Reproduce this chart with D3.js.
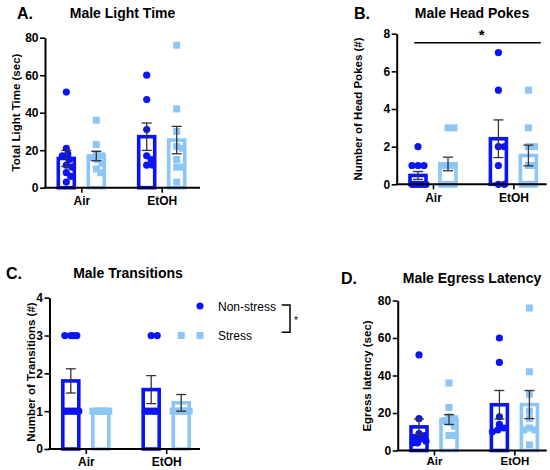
<!DOCTYPE html>
<html><head><meta charset="utf-8">
<script src="https://cdn.jsdelivr.net/npm/d3@7"></script>
<style>
html,body{margin:0;padding:0;background:#fff;}
svg{display:block;font-family:"Liberation Sans",Arial,Helvetica,sans-serif;}
</style></head>
<body>
<svg id="chart" width="550" height="470"></svg>
<script>
// ---------- DATA ----------
const categories = ["Air", "EtOH"];
const seriesNames = ["Non-stress", "Stress"];

// A. Male Light Time (sec)
const lightNonStress = [[51, 21, 18, 17, 15, 12, 11, 8, 6, 3], [60, 47, 31, 17, 15, 12, 12]];
const lightStress    = [[36, 23, 18, 17, 16, 15, 13, 10, 8], [76, 42, 30, 22, 21, 15, 11, 11, 3]];
const lightMean = [[15.6, 16.9], [27.2, 25.4]];
const lightSEM  = [[4.3, 2.5], [7.3, 7.3]];
const lightTicks = [0, 20, 40, 60, 80];

// B. Male Head Pokes (#)
const pokesNonStress = [[2, 1, 1, 1, 0, 0, 0, 0, 0, 0], [7, 5, 2, 2, 1, 0, 0]];
const pokesStress    = [[3, 3, 1, 1, 1, 1, 0, 0, 0], [5, 3, 2, 2, 1, 1, 0, 0, 0]];
const pokesMean = [[0.47, 1.08], [2.42, 1.53]];
const pokesSEM  = [[0.21, 0.36], [1.0, 0.55]];
const pokesTicks = [0, 2, 4, 6, 8];

// C. Male Transitions (#)
const transNonStress = [[3, 3, 3, 3, 1, 1, 1, 1, 1, 1], [3, 3, 1, 1, 1, 1, 1]];
const transStress    = [[1, 1, 1, 1, 1, 1, 1, 1, 1], [3, 1, 1, 1, 1, 1, 1, 1, 1]];
const transMean = [[1.8, 1.0], [1.57, 1.22]];
const transSEM  = [[0.32, 0], [0.37, 0.22]];
const transTicks = [0, 1, 2, 3, 4];

// D. Male Egress Latency (sec)
const egressNonStress = [[51, 17, 9, 8, 7, 6, 5, 4, 4], [60, 47, 18, 14, 12, 11, 10]];
const egressStress    = [[36, 23, 18, 17, 16, 15, 13, 8, 8], [76, 42, 30, 21, 17, 12, 11, 11, 3]];
const egressMean = [[12.6, 16.5], [24.4, 24.5]];
const egressSEM  = [[4.2, 2.6], [7.6, 7.5]];
const egressTicks = [0, 20, 40, 60, 80];

// ---------- STYLE / LAYOUT ----------
const colors = {"Non-stress": "#0a14f5", "Stress": "#8cc6f6"};
const svg = d3.select("#chart");
const FONT = "'Liberation Sans',Arial,sans-serif";

const panels = [
  {letter: "A.", title: "Male Light Time", ylabel: "Total Light  Time (sec)",
   ns: lightNonStress, st: lightStress, mean: lightMean, sem: lightSEM, ticks: lightTicks,
   x0: 45, xEnd: 200, yBot: 187.7, yTop: 37.7, letterX: 17, titleX: 122.5, headY: 18, ylabX: 19.5, ylabY: 112.5,
   xPad: 4, xFont: 12},
  {letter: "B.", title: "Male Head Pokes", ylabel: "Number of Head Pokes (#)",
   ns: pokesNonStress, st: pokesStress, mean: pokesMean, sem: pokesSEM, ticks: pokesTicks,
   x0: 396.7, xEnd: 546.7, yBot: 184.3, yTop: 33.7, letterX: 354, titleX: 472, headY: 18, ylabX: 361.5, ylabY: 109,
   xPad: 4, xFont: 12},
  {letter: "C.", title: "Male Transitions", ylabel: "Number of Transitions (#)",
   ns: transNonStress, st: transStress, mean: transMean, sem: transSEM, ticks: transTicks,
   x0: 49.5, xEnd: 200, yBot: 449, yTop: 297.7, letterX: 6, titleX: 128, headY: 278, ylabX: 34.5, ylabY: 372,
   xPad: 3, xFont: 12},
  {letter: "D.", title: "Male Egress Latency", ylabel: "Egress latency (sec)",
   ns: egressNonStress, st: egressStress, mean: egressMean, sem: egressSEM, ticks: egressTicks,
   x0: 397.7, xEnd: 546.7, yBot: 450.5, yTop: 300.5, letterX: 341, titleX: 472, headY: 283, ylabX: 370.5, ylabY: 376,
   xPad: 1.5, xFont: 11.5}
];

function swarm(vals, y, r, maxOff) {
  const placed = [];
  const minD = r * 1.6;
  const sorted = vals.slice().sort((a, b) => b - a);
  const cands = [0];
  for (let o = 0.5; o <= maxOff; o += 0.5) { cands.push(o, -o); }
  sorted.forEach(v => {
    const py = y(v);
    let best = null, bestD = -1;
    for (const c of cands) {
      let md = Infinity;
      for (const p of placed) {
        const d = Math.hypot(p.dx - c, p.py - py);
        if (d < md) md = d;
      }
      if (md >= minD) { best = c; bestD = md; break; }
      if (md > bestD + 0.01) { bestD = md; best = c; }
    }
    placed.push({v, dx: best, py});
  });
  return placed;
}

function drawPanel(p) {
  const g = svg.append("g");
  const y = d3.scaleLinear().domain([0, p.ticks[p.ticks.length - 1]]).range([p.yBot, p.yTop]);
  const x = d3.scalePoint().domain(categories).range([p.x0 + 36.3, p.x0 + 116.7]);
  const sub = d3.scalePoint().domain(seriesNames).range([-15, 15]);

  const recs = [];
  categories.forEach((c, ci) => {
    seriesNames.forEach((s, si) => {
      recs.push({cat: c, ser: s, mean: p.mean[ci][si], sem: p.sem[ci][si],
                 pts: si === 0 ? p.ns[ci] : p.st[ci]});
    });
  });

  // bars
  g.selectAll("rect.bar").data(recs).enter().append("rect")
    .attr("class", "bar")
    .attr("x", d => x(d.cat) + sub(d.ser) - 8)
    .attr("width", 16)
    .attr("y", d => y(d.mean))
    .attr("height", d => y(0) - y(d.mean))
    .attr("fill", "none")
    .attr("stroke", d => colors[d.ser])
    .attr("stroke-width", 3.6);

  // points
  recs.forEach(d => {
    const cx = x(d.cat) + sub(d.ser);
    const pl = swarm(d.pts, y, 3.6, 8);
    if (d.ser === "Non-stress") {
      g.selectAll(null).data(pl).enter().append("circle")
        .attr("cx", q => cx + q.dx).attr("cy", q => q.py).attr("r", 3.6)
        .attr("fill", colors[d.ser]);
    } else {
      g.selectAll(null).data(pl).enter().append("rect")
        .attr("x", q => cx + q.dx - 3.5).attr("y", q => q.py - 3.5)
        .attr("width", 7).attr("height", 7)
        .attr("fill", colors[d.ser]);
    }
  });

  // error bars
  const eb = g.selectAll("g.eb").data(recs.filter(d => d.sem > 0)).enter().append("g")
    .attr("stroke", "#333").attr("stroke-width", 1.3);
  eb.append("line")
    .attr("x1", d => x(d.cat) + sub(d.ser)).attr("x2", d => x(d.cat) + sub(d.ser))
    .attr("y1", d => y(d.mean + d.sem)).attr("y2", d => y(d.mean - d.sem));
  eb.append("line")
    .attr("x1", d => x(d.cat) + sub(d.ser) - 5).attr("x2", d => x(d.cat) + sub(d.ser) + 5)
    .attr("y1", d => y(d.mean + d.sem)).attr("y2", d => y(d.mean + d.sem));
  eb.append("line")
    .attr("x1", d => x(d.cat) + sub(d.ser) - 5).attr("x2", d => x(d.cat) + sub(d.ser) + 5)
    .attr("y1", d => y(d.mean - d.sem)).attr("y2", d => y(d.mean - d.sem));

  // y axis
  const ya = g.append("g").attr("transform", `translate(${p.x0},0)`)
    .call(d3.axisLeft(y).tickValues(p.ticks).tickFormat(d3.format("d"))
      .tickSize(5).tickSizeOuter(0).tickPadding(1.5));
  ya.select(".domain").attr("stroke", "#000").attr("stroke-width", 2);
  ya.selectAll(".tick line").attr("stroke", "#000").attr("stroke-width", 1.6);
  ya.selectAll(".tick text").attr("fill", "#000").style("font-size", "12px").style("font-weight", "bold")
    .style("font-family", FONT);

  // x axis
  const xa = g.append("g").attr("transform", `translate(0,${p.yBot})`)
    .call(d3.axisBottom(x).tickSize(5).tickSizeOuter(0).tickPadding(p.xPad));
  xa.select(".domain").remove();
  xa.append("line").attr("x1", p.x0 - 1).attr("x2", p.xEnd).attr("y1", 0).attr("y2", 0)
    .attr("stroke", "#000").attr("stroke-width", 2);
  xa.selectAll(".tick line").attr("stroke", "#000").attr("stroke-width", 1.6);
  xa.selectAll(".tick text").attr("fill", "#000").style("font-size", p.xFont + "px").style("font-weight", "bold")
    .style("font-family", FONT);

  // y label
  g.append("text")
    .attr("transform", `translate(${p.ylabX},${p.ylabY}) rotate(-90)`)
    .attr("text-anchor", "middle")
    .style("font-size", "11.5px").style("font-weight", "bold")
    .text(p.ylabel);

  // letter & title
  g.append("text").attr("x", p.letterX).attr("y", p.headY + 1)
    .style("font-size", "16px").style("font-weight", "bold").text(p.letter);
  g.append("text").attr("x", p.titleX).attr("y", p.headY).attr("text-anchor", "middle")
    .style("font-size", "14px").style("font-weight", "bold").text(p.title);

  return {x, y};
}

const scalesByPanel = panels.map(drawPanel);

// significance bar on panel B
const sigB = svg.append("g");
sigB.append("line").attr("x1", 414.3).attr("x2", 540.7).attr("y1", 42.7).attr("y2", 42.7)
  .attr("stroke", "#000").attr("stroke-width", 1.5);
sigB.append("text").attr("x", 481.7).attr("y", 40).attr("text-anchor", "middle")
  .style("font-size", "15px").style("font-weight", "bold").text("*");

// legend on panel C
const leg = svg.append("g");
leg.append("circle").attr("cx", 200).attr("cy", 306).attr("r", 3.6).attr("fill", colors["Non-stress"]);
leg.append("rect").attr("x", 196.5).attr("y", 332).attr("width", 7).attr("height", 7).attr("fill", colors["Stress"]);
leg.append("text").attr("x", 218).attr("y", 310.5).style("font-size", "12px").text(seriesNames[0]);
leg.append("text").attr("x", 218).attr("y", 339.5).style("font-size", "12px").text(seriesNames[1]);
leg.append("path").attr("d", "M281.7,305 H290 V332.3 H281.7").attr("fill", "none")
  .attr("stroke", "#000").attr("stroke-width", 1.5);
leg.append("text").attr("x", 294).attr("y", 324).style("font-size", "10px").text("*");
</script>
</body></html>
